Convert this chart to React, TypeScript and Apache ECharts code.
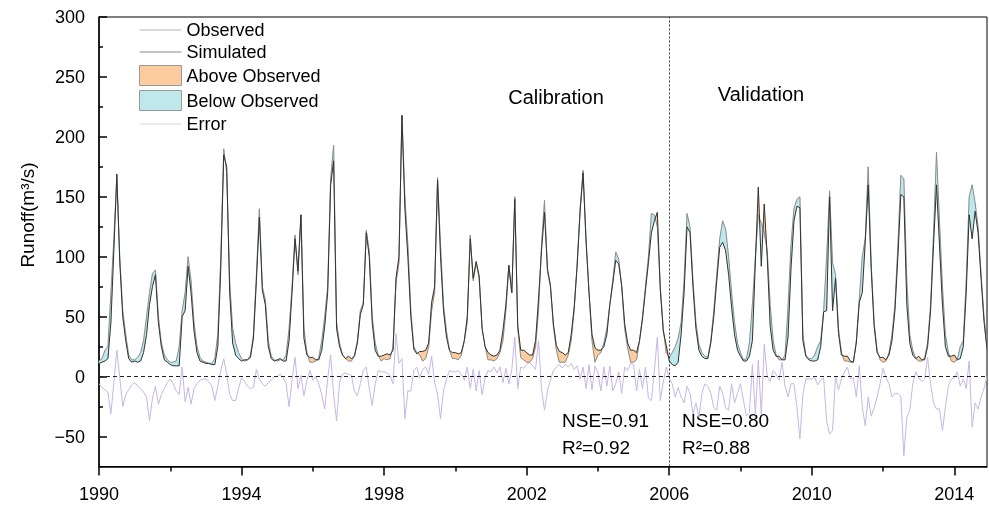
import React, { useEffect, useRef } from 'react';
import * as echarts from 'echarts';

// Monthly runoff, Jan 1990 .. Dec 2014 (one row per year)
const observed = [
  13, 15, 22, 25, 70, 115, 165, 100, 55, 35, 18, 14,
  14, 16, 20, 30, 50, 70, 86, 89, 50, 28, 18, 14,
  12, 12, 13, 25, 55, 70, 100, 80, 45, 25, 16, 13,
  12, 11, 11, 15, 35, 100, 190, 170, 80, 40, 28, 20,
  15, 13, 14, 18, 35, 85, 140, 75, 64, 30, 17, 14,
  13, 14, 14, 18, 40, 75, 118, 85, 135, 40, 20, 12,
  12, 13, 16, 30, 50, 75, 165, 193, 45, 28, 18, 15,
  13, 13, 17, 30, 55, 62, 122, 105, 50, 28, 18, 13,
  15, 14, 15, 25, 78, 95, 218, 150, 110, 55, 25, 20,
  18, 13, 15, 25, 55, 70, 166, 110, 60, 38, 22, 15,
  15, 14, 18, 30, 45, 118, 80, 95, 82, 40, 25, 14,
  14, 13, 15, 20, 30, 55, 92, 70, 150, 40, 16, 14,
  12, 12, 15, 25, 55, 110, 147, 88, 75, 42, 22, 12,
  12, 12, 18, 30, 55, 95, 140, 172, 115, 70, 30, 12,
  18, 20, 28, 40, 60, 80, 104, 98, 75, 40, 24, 12,
  12, 14, 30, 50, 75, 100, 136, 135, 125, 75, 40, 20,
  16, 20, 25, 32, 45, 80, 136, 125, 80, 45, 27, 20,
  17, 16, 30, 55, 85, 115, 130, 123, 100, 70, 45, 28,
  20, 14, 15, 28, 60, 100, 135, 128, 120, 105, 60, 30,
  18, 14, 14, 18, 58, 110, 140, 148, 150, 35, 18, 15,
  15, 18, 25, 30, 55, 100, 155, 95, 85, 40, 20, 13,
  13, 12, 12, 30, 65, 100, 115, 175, 95, 45, 22, 14,
  12, 13, 20, 35, 60, 110, 168, 165, 80, 35, 22, 15,
  13, 13, 16, 28, 60, 120, 187, 130, 75, 35, 20, 13,
  12, 14, 25, 30, 80, 150, 160, 145, 125, 86, 50, 24,
];

const simulated = [
  11, 12, 13, 15, 45, 105, 169, 95, 50, 30, 15, 12,
  13, 12, 13, 20, 35, 60, 75, 85, 45, 25, 14, 12,
  10, 9, 9, 9, 50, 55, 92, 70, 38, 20, 13, 12,
  11, 11, 10, 10, 25, 90, 185, 175, 70, 28, 18, 15,
  13, 14, 14, 16, 32, 80, 133, 72, 60, 25, 15, 13,
  14, 15, 13, 13, 30, 70, 115, 88, 135, 32, 18, 16,
  16, 14, 14, 22, 42, 70, 160, 180, 40, 25, 18, 15,
  17, 15, 17, 28, 52, 60, 120, 100, 45, 22, 17, 17,
  18, 19, 18, 22, 82, 100, 218, 140, 100, 50, 23, 19,
  21, 21, 22, 28, 62, 75, 164, 100, 55, 33, 22, 20,
  20, 19, 20, 30, 50, 115, 82, 96, 84, 40, 25, 20,
  18, 17, 18, 22, 38, 60, 93, 70, 148, 42, 22, 22,
  20, 18, 18, 30, 65, 105, 137, 90, 76, 44, 26, 21,
  20, 18, 20, 35, 58, 92, 138, 170, 112, 70, 35, 24,
  22, 22, 25, 35, 60, 78, 97, 94, 76, 44, 28, 22,
  22, 20, 30, 48, 72, 95, 120, 130, 137, 72, 38, 26,
  13, 10, 9, 12, 35, 70, 125, 120, 75, 40, 22, 17,
  15, 15, 28, 50, 80, 108, 112, 105, 85, 58, 35, 22,
  17, 13, 13, 17, 30, 95, 158, 92, 144, 100, 42, 22,
  17, 17, 14, 14, 33, 90, 130, 142, 141, 30, 17, 14,
  13, 13, 14, 25, 54, 55, 150, 55, 82, 36, 18, 17,
  17, 13, 12, 28, 62, 70, 112, 160, 90, 42, 20, 16,
  16, 14, 18, 30, 55, 100, 152, 150, 60, 28, 18, 15,
  17, 14, 14, 25, 55, 110, 160, 110, 60, 25, 17, 17,
  18, 14, 15, 25, 70, 135, 115, 138, 120, 82, 46, 23,
];

const errorValues = [
  -6, -9, -11, -13, -31, -5, 22, -1, -25, -15, -11, -7,
  -5, -8, -10, -13, -17, -37, -18, -8, -23, -15, -10, -5,
  -2, -6, -12, -15, 8, -21, -9, -23, -10, -6, -3, -2,
  -2, -4, -8, -20, -8, 5, 15, 2, -15, -20, -20, -10,
  -1, -4, -8, -10, -9, 6, -2, -6, -8, -5, -3, 0,
  0, 2, -1, -6, -25, -3, 16, -10, 1, -16, -3, 5,
  -3, 0, -6, -15, -27, -2, 18, -15, -37, -5, 2, 3,
  2, 1, -12, -16, -6, 5, 8, -10, -24, -6, 5, 4,
  4, 3, 1, -6, 36, 11, 15, -35, -12, -12, 5, 8,
  -1, 6, 8, 2, 17, -5, -15, -35, -12, -2, 5, 4,
  4, 5, 2, -3, 8, -10, 6, -12, 5, -15, -1, 5,
  4, 8, 3, 8, -5, 7, -6, 6, 33, -10, 8, 7,
  10, 12, 9, 6, 30, -10, -28, -12, -3, 5, 8, 10,
  7, 10, 8, 11, 6, 9, -2, 8, -10, 10, -11, 9,
  3, -12, 8, -8, 9, -12, -6, 4, -14, 8, 5, 11,
  10, -12, 6, -10, 8, -18, -20, 5, 33, -20, -5, 8,
  -1, -6, -17, -9, -17, -22, -8, -14, -31, -22, -34, -14,
  -6, -8, -14, -26, -28, -8, -14, -26, -28, -6, -22, -14,
  -6, -20, -33, -30, 10, -32, 14, -32, 27, 0, -4, 5,
  2, -3, 12, -8, -17, -6, -6, -25, -52, -15, -2, -2,
  -2, -1, -7, -3, -1, -37, -48, -45, 0, -11, -2, 4,
  8, -2, -1, -17, 9, -25, -41, -17, -33, -26, -17, -6,
  7, -1, -6, -17, -14, -14, -17, -66, -34, -28, -6, 4,
  -1, -4, -2, 16, -6, -22, -27, -27, -45, -25, -8, -2,
  -1, 4, -8, -2, -10, 13, -42, -22, -27, -17, -10, 0,
];

const START_YEAR = 1990;
const SPLIT_YEAR = 2006;
const xLabelValues = [1990, 1994, 1998, 2002, 2006, 2010, 2014];
const xMinorValues = [1992, 1996, 2000, 2004, 2008, 2012];
const yLabelValues = [-50, 0, 50, 100, 150, 200, 250, 300];
const yMinorValues = [-25, 25, 75, 125, 175, 225, 275];
const stats = { calNSE: '0.91', calR2: '0.92', valNSE: '0.80', valR2: '0.88' };

const FONT = '"Liberation Sans", Arial, Helvetica, sans-serif';
const ORANGE = '#FCCC9E';
const BLUE = '#BEE8EC';
const OBS_COLOR = '#8c8c8c';
const SIM_COLOR = '#333333';
const ERR_COLOR = '#C6B6E4';
const HIDDEN = { color: 'rgba(0,0,0,0)', opacity: 0, borderWidth: 0 };

export default function App() {
  const ref = useRef<HTMLDivElement>(null);

  useEffect(() => {
    const chart = echarts.init(ref.current!, null, { renderer: 'svg' });
    const xs = observed.map((_, i) => START_YEAR + i / 12);
    const xMax = xs[xs.length - 1];
    const pair = (arr: number[]) => arr.map((v, i) => [xs[i], v]);

    // one row per month-to-month segment: x0, x1, obs0, obs1, sim0, sim1
    const segments: number[][] = [];
    for (let i = 0; i < observed.length - 1; i++) {
      segments.push([xs[i], xs[i + 1], observed[i], observed[i + 1], simulated[i], simulated[i + 1]]);
    }

    const bandRender = (sign: number, color: string) => (params: any, api: any) => {
      const x0 = api.value(0), x1 = api.value(1);
      const o0 = api.value(2), o1 = api.value(3);
      const s0 = api.value(4), s1 = api.value(5);
      const d0 = (s0 - o0) * sign;
      const d1 = (s1 - o1) * sign;
      let pts: number[][] | null = null;
      if (d0 >= 0 && d1 >= 0 && (d0 > 0 || d1 > 0)) {
        pts = [[x0, o0], [x1, o1], [x1, s1], [x0, s0]];
      } else if (d0 > 0 && d1 < 0) {
        const t = d0 / (d0 - d1);
        const xc = x0 + t * (x1 - x0);
        const yc = o0 + t * (o1 - o0);
        pts = [[x0, o0], [xc, yc], [x0, s0]];
      } else if (d0 < 0 && d1 > 0) {
        const t = d0 / (d0 - d1);
        const xc = x0 + t * (x1 - x0);
        const yc = o0 + t * (o1 - o0);
        pts = [[xc, yc], [x1, o1], [x1, s1]];
      }
      if (!pts) return { type: 'group', children: [] };
      return {
        type: 'polygon',
        shape: { points: pts.map((p) => api.coord(p)) },
        style: { fill: color, stroke: color, lineWidth: 0.6 },
      };
    };

    const gridLeft = 99;
    const gridRight = 2;
    const gridTop = 17;
    const gridBottom = 39.5;
    const plotW = 989 - gridLeft - gridRight;
    const plotH = 506 - gridTop - gridBottom;

    const tickStyle = { color: '#000', width: 1.5 };
    const labelStyle = { fontSize: 18, color: '#000', fontFamily: FONT };

    chart.setOption({
      animation: false,
      grid: {
        left: gridLeft,
        right: gridRight,
        top: gridTop,
        bottom: gridBottom,
        show: true,
        borderColor: '#000',
        borderWidth: 1,
      },
      legend: {
        orient: 'vertical',
        left: 139,
        top: 21,
        padding: 0,
        itemWidth: 42,
        itemHeight: 20,
        itemGap: 4,
        selectedMode: false,
        textStyle: { fontSize: 18, color: '#000', fontFamily: FONT },
        data: [
          { name: 'Observed', lineStyle: { color: '#b4b4b4', width: 1 }, itemStyle: HIDDEN },
          { name: 'Simulated', lineStyle: { color: '#8a8a8a', width: 1 }, itemStyle: HIDDEN },
          { name: 'Above Observed', icon: 'rect', itemStyle: { color: ORANGE, borderColor: '#9a9a9a', borderWidth: 1 } },
          { name: 'Below Observed', icon: 'rect', itemStyle: { color: BLUE, borderColor: '#9a9a9a', borderWidth: 1 } },
          { name: 'Error', lineStyle: { color: '#ddd2ee', width: 1 }, itemStyle: HIDDEN },
        ],
      },
      xAxis: [
        {
          type: 'value',
          min: START_YEAR,
          max: xMax,
          axisLine: { show: true, onZero: false, lineStyle: tickStyle },
          axisTick: { show: true, customValues: xLabelValues, length: 9, lineStyle: tickStyle },
          axisLabel: { customValues: xLabelValues, margin: 18, formatter: (v: number) => String(v), ...labelStyle },
          splitLine: { show: false },
        },
        {
          type: 'value',
          min: START_YEAR,
          max: xMax,
          position: 'top',
          offset: -plotH,
          axisLine: { show: false, onZero: false },
          axisTick: { show: true, inside: true, customValues: xMinorValues, length: 5, lineStyle: tickStyle },
          axisLabel: { show: false },
          splitLine: { show: false },
        },
      ],
      yAxis: [
        {
          type: 'value',
          min: -75,
          max: 300,
          axisLine: { show: true, onZero: false, lineStyle: tickStyle },
          axisTick: { show: true, inside: true, customValues: yLabelValues, length: 8, lineStyle: tickStyle },
          axisLabel: {
            customValues: yLabelValues,
            margin: 14,
            formatter: (v: number) => (v < 0 ? '\u2212' + Math.abs(v) : String(v)),
            ...labelStyle,
          },
          splitLine: { show: false },
        },
        {
          type: 'value',
          min: -75,
          max: 300,
          position: 'right',
          offset: -plotW,
          axisLine: { show: false, onZero: false },
          axisTick: { show: true, inside: false, customValues: yMinorValues, length: 4, lineStyle: tickStyle },
          axisLabel: { show: false },
          splitLine: { show: false },
        },
      ],
      series: [
        {
          name: 'Above Observed',
          type: 'custom',
          data: segments,
          encode: { x: [0, 1], y: [2, 3, 4, 5] },
          renderItem: bandRender(1, ORANGE),
          itemStyle: { color: ORANGE },
          silent: true,
          z: 1,
        },
        {
          name: 'Below Observed',
          type: 'custom',
          data: segments,
          encode: { x: [0, 1], y: [2, 3, 4, 5] },
          renderItem: bandRender(-1, BLUE),
          itemStyle: { color: BLUE },
          silent: true,
          z: 1,
        },
        {
          name: 'Error',
          type: 'line',
          data: pair(errorValues),
          symbol: 'none',
          silent: true,
          itemStyle: { color: ERR_COLOR },
          lineStyle: { color: ERR_COLOR, width: 1 },
          z: 2,
          markLine: {
            silent: true,
            symbol: ['none', 'none'],
            label: { show: false },
            data: [
              { yAxis: 0, lineStyle: { type: [4, 3], color: '#222', width: 1 } },
              { xAxis: SPLIT_YEAR, lineStyle: { type: [2, 2], color: '#333', width: 1 } },
            ],
          },
        },
        {
          name: 'Observed',
          type: 'line',
          data: pair(observed),
          symbol: 'none',
          silent: true,
          itemStyle: { color: OBS_COLOR },
          lineStyle: { color: OBS_COLOR, width: 1 },
          z: 3,
        },
        {
          name: 'Simulated',
          type: 'line',
          data: pair(simulated),
          symbol: 'none',
          silent: true,
          itemStyle: { color: SIM_COLOR },
          lineStyle: { color: SIM_COLOR, width: 1 },
          z: 4,
        },
      ],
      graphic: [
        {
          type: 'text',
          x: 27,
          y: 215,
          rotation: Math.PI / 2,
          style: { text: 'Runoff(m\u00b3/s)', font: '19px ' + FONT, fill: '#000', align: 'center', verticalAlign: 'middle', textAlign: 'center', textVerticalAlign: 'middle' },
        },
        {
          type: 'text', x: 556, y: 97,
          style: { text: 'Calibration', font: '20px ' + FONT, fill: '#000', align: 'center', verticalAlign: 'middle', textAlign: 'center', textVerticalAlign: 'middle' },
        },
        {
          type: 'text', x: 761, y: 94,
          style: { text: 'Validation', font: '20px ' + FONT, fill: '#000', align: 'center', verticalAlign: 'middle', textAlign: 'center', textVerticalAlign: 'middle' },
        },
        {
          type: 'text', x: 562, y: 420,
          style: { text: 'NSE=' + stats.calNSE, font: '19px ' + FONT, fill: '#000', align: 'left', verticalAlign: 'middle', textAlign: 'left', textVerticalAlign: 'middle' },
        },
        {
          type: 'text', x: 562, y: 447,
          style: { text: 'R\u00b2=' + stats.calR2, font: '19px ' + FONT, fill: '#000', align: 'left', verticalAlign: 'middle', textAlign: 'left', textVerticalAlign: 'middle' },
        },
        {
          type: 'text', x: 682, y: 420,
          style: { text: 'NSE=' + stats.valNSE, font: '19px ' + FONT, fill: '#000', align: 'left', verticalAlign: 'middle', textAlign: 'left', textVerticalAlign: 'middle' },
        },
        {
          type: 'text', x: 682, y: 447,
          style: { text: 'R\u00b2=' + stats.valR2, font: '19px ' + FONT, fill: '#000', align: 'left', verticalAlign: 'middle', textAlign: 'left', textVerticalAlign: 'middle' },
        },
      ],
    });

    return () => chart.dispose();
  }, []);

  return <div ref={ref} style={{ position: 'fixed', left: 0, top: 0, width: 989, height: 506 }} />;
}
